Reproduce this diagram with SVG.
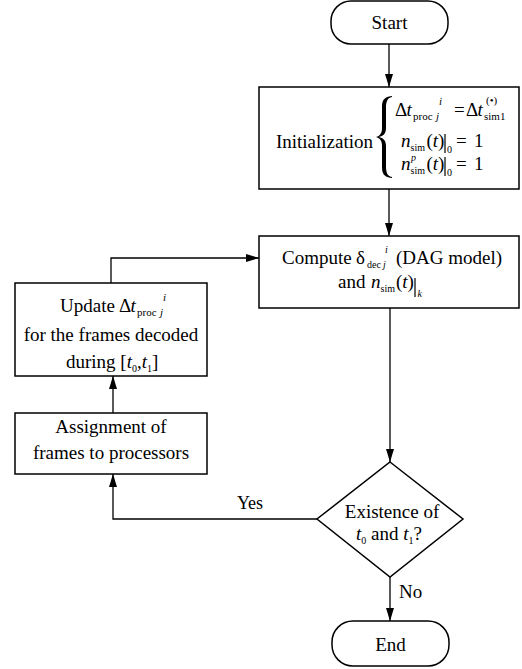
<svg xmlns="http://www.w3.org/2000/svg" width="522" height="669" viewBox="0 0 522 669">
<style>
text{font-family:"Liberation Serif","Times New Roman",serif;font-size:19px;fill:#000}
.it{font-style:italic}
.s{font-size:10px}
.m{text-anchor:middle}
.box{fill:#fff;stroke:#000;stroke-width:1.5}
.ln{fill:none;stroke:#000;stroke-width:1.3}
.bar{stroke:#000;stroke-width:1.2}
</style>
<defs>
<marker id="ah" markerUnits="userSpaceOnUse" markerWidth="14" markerHeight="9" refX="13" refY="4" orient="auto">
<path d="M0,0 L13,4 L0,8 Z" fill="#000"/>
</marker>
</defs>
<g id="connectors">
<line class="ln" x1="389" y1="44" x2="389" y2="87" marker-end="url(#ah)"/>
<line class="ln" x1="389" y1="189" x2="389" y2="236" marker-end="url(#ah)"/>
<line class="ln" x1="390" y1="308" x2="390" y2="462" marker-end="url(#ah)"/>
<line class="ln" x1="390" y1="577" x2="390" y2="621" marker-end="url(#ah)"/>
<polyline class="ln" points="317,519 113,519 113,474" marker-end="url(#ah)"/>
<line class="ln" x1="113" y1="413" x2="113" y2="376" marker-end="url(#ah)"/>
<polyline class="ln" points="111,283 111,258 259,258" marker-end="url(#ah)"/>
<text x="250" y="509" class="m" style="font-size:18px">Yes</text>
<text x="399" y="598">No</text>
</g>
<g id="start">
<rect class="box" x="331" y="1" width="117" height="43" rx="20" ry="20"/>
<text x="389.5" y="29" class="m">Start</text>
</g>
<g id="init">
<rect class="box" x="259" y="87" width="260" height="102"/>
<text x="373" y="148" style="text-anchor:end">Initialization</text>
<path d="M392,96 C383,97 382,101 382,108 L382,128 C382,133 380,136 376,137 C380,138 382,141 382,146 L382,166 C382,173 383,177 392,178 L392,177 C387,176 386,172 386,166 L386,146 C386,140 383,138 379,137 C383,136 386,134 386,128 L386,108 C386,102 387,98 392,97 Z" fill="#000"/>
<text x="395" y="116">Δ</text>
<text x="406.5" y="116" class="it">t</text>
<text x="413" y="120" class="s" style="font-size:11px">proc</text>
<text x="436" y="120" class="it s" style="font-size:11px">j</text>
<text x="439" y="105" class="it s" style="font-size:11px">i</text>
<text x="454" y="116">=</text>
<text x="466" y="116">Δ</text>
<text x="477.5" y="116" class="it">t</text>
<text x="486" y="104" class="s" style="font-size:11px">(•)</text>
<text x="484" y="120" class="s" style="font-size:11px">sim1</text>
<text x="401" y="147" class="it">n</text>
<text x="410.5" y="151" class="s">sim</text>
<text x="426.5" y="147">(<tspan class="it">t</tspan>)</text>
<line class="bar" x1="445" y1="134" x2="445" y2="153"/>
<text x="447" y="153" class="s">0</text>
<text x="456" y="147">=</text>
<text x="474" y="147">1</text>
<text x="401" y="170" class="it">n</text>
<text x="411" y="161" class="it s">p</text>
<text x="410.5" y="174" class="s">sim</text>
<text x="426.5" y="170">(<tspan class="it">t</tspan>)</text>
<line class="bar" x1="445" y1="157" x2="445" y2="176"/>
<text x="447" y="176" class="s">0</text>
<text x="456" y="170">=</text>
<text x="474" y="170">1</text>
</g>
<g id="compute">
<rect class="box" x="259" y="236" width="260" height="72"/>
<text x="282" y="264">Compute</text>
<text x="356" y="264">δ</text>
<text x="367" y="268" class="s">dec</text>
<text x="383" y="268" class="it s">j</text>
<text x="385" y="253" class="it s">i</text>
<text x="396" y="264">(DAG model)</text>
<text x="338" y="288">and</text>
<text x="371" y="288" class="it">n</text>
<text x="380.5" y="292" class="s">sim</text>
<text x="396" y="288">(<tspan class="it">t</tspan>)</text>
<line class="bar" x1="415" y1="278" x2="415" y2="297"/>
<text x="417.5" y="297" class="it s">k</text>
</g>
<g id="update">
<rect class="box" x="15" y="283" width="192" height="93"/>
<text x="60" y="312">Update</text>
<text x="119" y="312">Δ</text>
<text x="130.5" y="312" class="it">t</text>
<text x="137" y="316" class="s" style="font-size:11px">proc</text>
<text x="160" y="316" class="it s" style="font-size:11px">j</text>
<text x="163" y="301" class="it s" style="font-size:11px">i</text>
<text x="111" y="341" class="m">for the frames decoded</text>
<text x="66" y="368">during [<tspan class="it">t</tspan><tspan class="s" dy="4">0</tspan><tspan dy="-4">,</tspan><tspan class="it">t</tspan><tspan class="s" dy="4">1</tspan><tspan dy="-4">]</tspan></text>
</g>
<g id="assign">
<rect class="box" x="15" y="413" width="192" height="61"/>
<text x="111" y="433" class="m">Assignment of</text>
<text x="111" y="459" class="m">frames to processors</text>
</g>
<g id="decision">
<polygon class="box" points="390,462 463,519 390,577 317,519"/>
<text x="392" y="518" class="m">Existence of</text>
<text x="356" y="540"><tspan class="it">t</tspan><tspan class="s" dy="4">0</tspan><tspan dy="-4"> and </tspan><tspan class="it">t</tspan><tspan class="s" dy="4">1</tspan><tspan dy="-4">?</tspan></text>
</g>
<g id="end">
<rect class="box" x="332" y="621" width="117" height="45" rx="21" ry="21"/>
<text x="390.5" y="651" class="m">End</text>
</g>
</svg>
